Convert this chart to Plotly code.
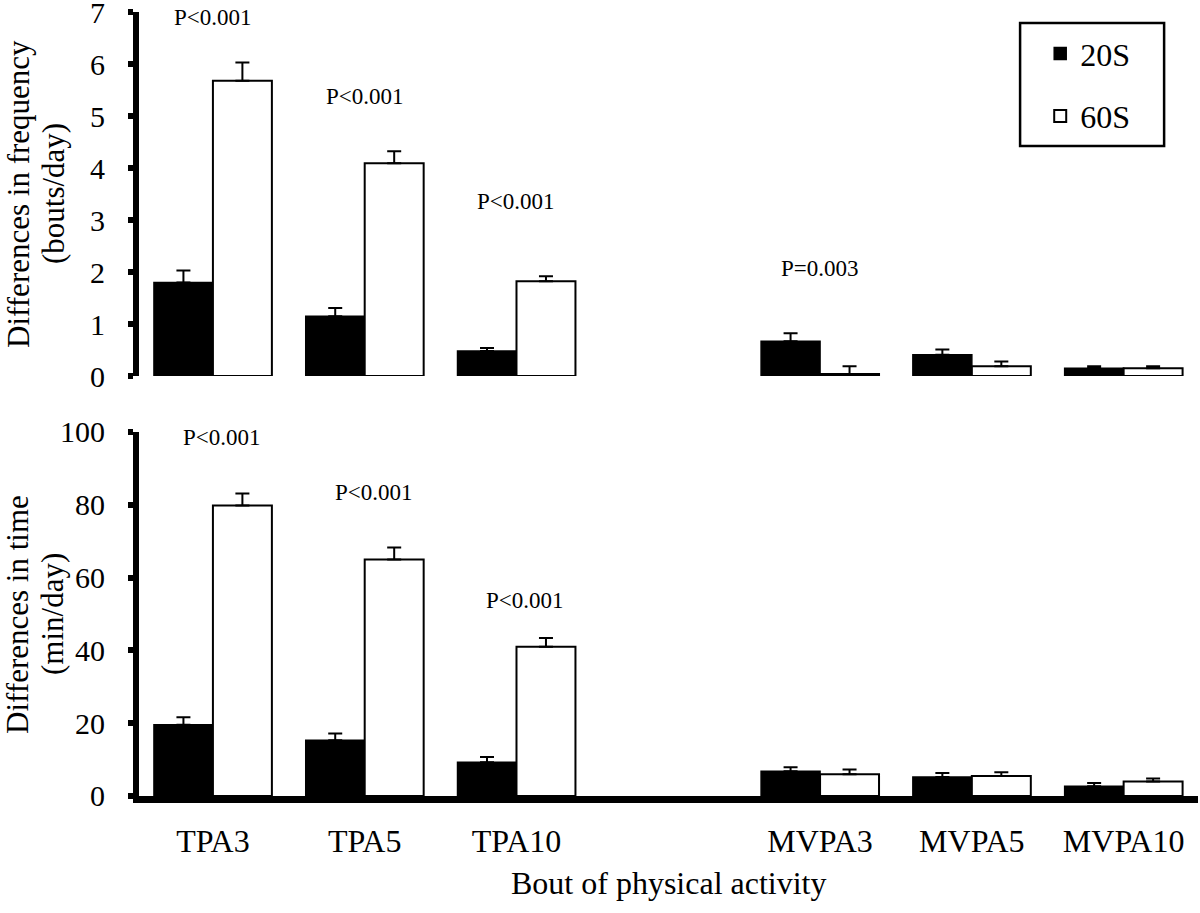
import plotly.graph_objects as go

# ---- data ----
categories = ["TPA3", "TPA5", "TPA10", "MVPA3", "MVPA5", "MVPA10"]
category_order = ["TPA3", "TPA5", "TPA10", " ", "MVPA3", "MVPA5", "MVPA10"]

freq_20s = [1.80, 1.15, 0.48, 0.67, 0.41, 0.15]
freq_20s_err = [0.23, 0.16, 0.06, 0.15, 0.10, 0.04]
freq_60s = [5.68, 4.09, 1.82, 0.04, 0.19, 0.15]
freq_60s_err = [0.35, 0.23, 0.10, 0.15, 0.09, 0.04]

time_20s = [19.6, 15.3, 9.3, 6.8, 5.2, 2.7]
time_20s_err = [2.0, 1.9, 1.4, 1.1, 1.1, 0.9]
time_60s = [79.8, 65.0, 41.0, 6.0, 5.5, 4.0]
time_60s_err = [3.3, 3.3, 2.4, 1.3, 1.0, 0.8]

freq_p_cats = ["TPA3", "TPA5", "TPA10", "MVPA3"]
freq_p_text = ["P<0.001", "P<0.001", "P<0.001", "P=0.003"]
time_p_cats = ["TPA3", "TPA5", "TPA10"]
time_p_text = ["P<0.001", "P<0.001", "P<0.001"]

series_names = ["20S", "60S"]
freq_title_lines = ["Differences in frequency", "(bouts/day)"]
time_title_lines = ["Differences in time", "(min/day)"]
x_title = "Bout of physical activity"

# ---- layout constants ----
FONT = "Liberation Serif"
freq_label_y = [6.9, 5.38, 3.35, 2.06]
time_label_y = [98.6, 83.5, 53.8]
title_line_x = [-0.1143, -0.0812]

fig = go.Figure()


def err(arr):
    return dict(type="data", array=arr, arrayminus=[0] * len(arr), symmetric=False,
                color="black", thickness=2, width=7)


specs = [
    ("x", "y", freq_20s, freq_20s_err, freq_60s, freq_60s_err, True),
    ("x2", "y2", time_20s, time_20s_err, time_60s, time_60s_err, False),
]
for xa, ya, v20, e20, v60, e60, show in specs:
    fig.add_trace(go.Bar(x=categories, y=v20, name=series_names[0], xaxis=xa, yaxis=ya,
                         marker=dict(color="black", line=dict(color="black", width=1.5)),
                         error_y=err(e20), showlegend=show, legendgroup="a"))
    fig.add_trace(go.Bar(x=categories, y=v60, name=series_names[1], xaxis=xa, yaxis=ya,
                         marker=dict(color="white", line=dict(color="black", width=2)),
                         error_y=err(e60), showlegend=show, legendgroup="b"))

xcommon = dict(type="category", categoryorder="array", categoryarray=category_order,
               range=[-0.487, 6.49], showgrid=False, zeroline=False, automargin=False)

ycommon = dict(showline=True, linewidth=6, linecolor="black",
               ticks="outside", ticklen=5, tickwidth=6, tickcolor="black",
               showgrid=False, zeroline=False, automargin=False,
               ticklabeloverflow="allow",
               tickfont=dict(size=30, family=FONT), ticklabelstandoff=17)

top_domain = [0.5357, 1]
bot_domain = [0, 0.4643]

fig.update_layout(
    width=1200, height=913,
    margin=dict(l=139, r=2, t=12, b=117),
    paper_bgcolor="white", plot_bgcolor="white",
    font=dict(family=FONT, color="black", size=28),
    barmode="group", bargap=0.223, bargroupgap=0,
    xaxis=dict(**xcommon, domain=[0, 1], anchor="y", showline=False,
               showticklabels=False, ticks=""),
    yaxis=dict(**ycommon, domain=top_domain, range=[0, 7], dtick=1, anchor="x"),
    xaxis2=dict(**xcommon, domain=[0, 1], anchor="y2", showline=True, linewidth=7,
                linecolor="black", ticks="", tickfont=dict(size=32, family=FONT),
                ticklabelstandoff=11),
    yaxis2=dict(**ycommon, domain=bot_domain, range=[0, 100], dtick=20, anchor="x2"),
    legend=dict(x=0.851, y=0.982, xanchor="left", yanchor="top",
                bgcolor="rgba(0,0,0,0)", borderwidth=0,
                font=dict(size=32, family=FONT), traceorder="grouped", tracegroupgap=18),
    shapes=[dict(type="rect", xref="paper", yref="paper",
                 x0=0.832, x1=0.968, y0=0.829, y1=0.986,
                 line=dict(color="black", width=2.5), fillcolor="rgba(0,0,0,0)")],
)

annotations = []
for c, t, yv in zip(freq_p_cats, freq_p_text, freq_label_y):
    annotations.append(dict(x=c, y=yv, xref="x", yref="y", text=t, showarrow=False,
                            font=dict(size=23, family=FONT)))
for c, t, yv in zip(time_p_cats, time_p_text, time_label_y):
    annotations.append(dict(x=c, y=yv, xref="x2", yref="y2", text=t, showarrow=False,
                            xshift=9, font=dict(size=23, family=FONT)))
for lines, dom in [(freq_title_lines, top_domain), (time_title_lines, bot_domain)]:
    for line, xp in zip(lines, title_line_x):
        annotations.append(dict(x=xp, y=(dom[0] + dom[1]) / 2, xref="paper", yref="paper",
                                text=line, showarrow=False, textangle=-90,
                                xanchor="center", yanchor="middle",
                                font=dict(size=31, family=FONT)))
annotations.append(dict(x=0.5, y=-0.111, xref="paper", yref="paper",
                        text=x_title, showarrow=False,
                        xanchor="center", yanchor="middle",
                        font=dict(size=32, family=FONT)))
fig.update_layout(annotations=annotations)

fig.write_html("out.html", config={"displayModeBar": False},
               post_script="document.body.style.margin='0';")
